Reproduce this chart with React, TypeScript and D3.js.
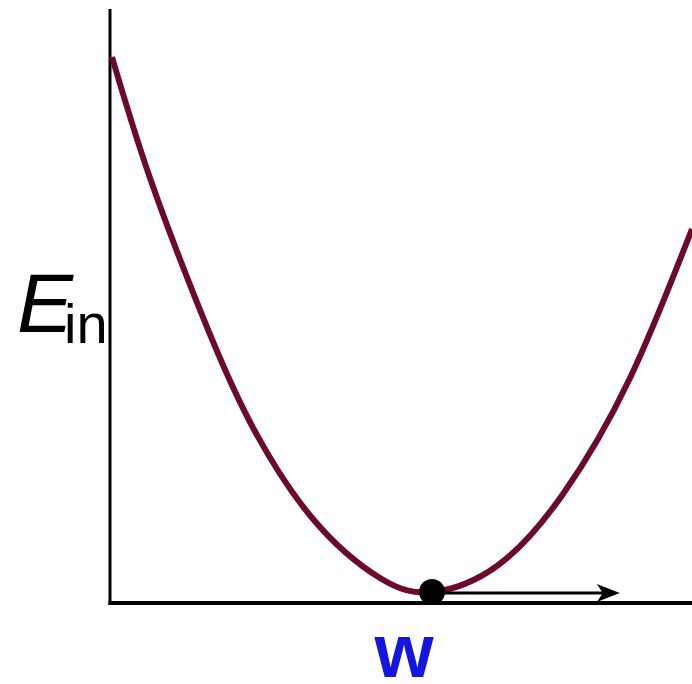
import React from "react";
import * as d3 from "d3";

// Error curve E_in(w), sampled along w
const wValues = [0.34, 6.87, 15.81, 24.05, 34.88, 46.39, 55.33, 66.49, 77.84, 89.35, 100.0];
const eValues = [92.07, 71.67, 48.57, 30.52, 14.17, 4.22, 1.85, 6.24, 18.38, 37.94, 63.07];

// Current weight (the minimum) and the step direction
const minW = [55.33];
const minE = [1.85];
const stepToW = [87.6];

const W = 692;
const H = 684;

export default function App() {
  const x = d3.scaleLinear().domain([0, 100]).range([110, 692]);
  const y = d3.scaleLinear().domain([0, 100]).range([603, 10]);

  const pts: [number, number][] = wValues.map((w, i) => [w, eValues[i]]);
  const line = d3
    .line<[number, number]>()
    .x((d) => x(d[0]))
    .y((d) => y(d[1]))
    .curve(d3.curveNatural);

  const px = x(minW[0]);
  const py = y(minE[0]);
  const ax = x(stepToW[0]);

  return (
    <svg
      width={W}
      height={H}
      style={{ position: "absolute", left: 0, top: 0, background: "#fff" }}
      fontFamily="'Liberation Sans', Arial, sans-serif"
    >
      {/* axes */}
      <line x1={x(0)} y1={y(100) - 1} x2={x(0)} y2={y(0) + 2} stroke="#000" strokeWidth={3} />
      <line x1={x(0) - 1.5} y1={y(0)} x2={W} y2={y(0)} stroke="#000" strokeWidth={4} />

      {/* error curve */}
      <path d={line(pts) || ""} fill="none" stroke="#6c0a2e" strokeWidth={6} />

      {/* step arrow */}
      <line x1={px} y1={py + 1} x2={ax - 12} y2={py + 1} stroke="#000" strokeWidth={3} />
      <path
        d={`M${ax},${py + 1} L${ax - 23},${py - 8} L${ax - 17},${py + 1} L${ax - 23},${py + 10} Z`}
        fill="#000"
      />

      {/* current weight */}
      <circle cx={px} cy={py} r={13} fill="#000" />

      {/* axis labels */}
      <text x={17} y={332} fontSize={84} fill="#000">
        <tspan fontStyle="italic">E</tspan>
        <tspan dx={-9} dy={11} fontSize={56}>
          in
        </tspan>
      </text>
      <text x={404} y={677} fontSize={76} fontWeight="bold" fill="#1515e0" textAnchor="middle">
        w
      </text>
    </svg>
  );
}
